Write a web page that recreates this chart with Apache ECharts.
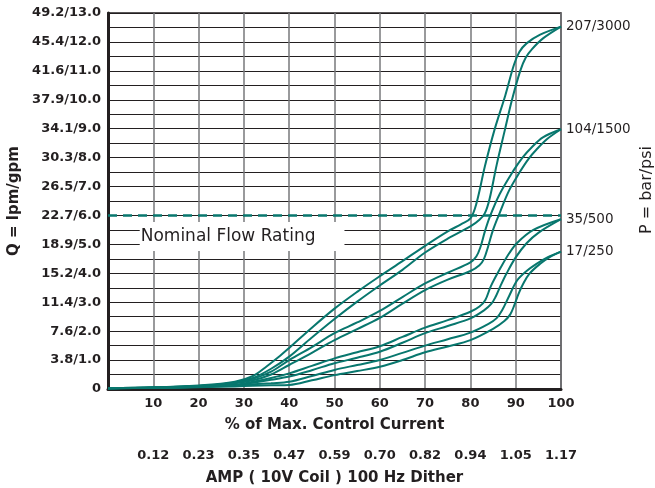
<!DOCTYPE html>
<html>
<head>
<meta charset="utf-8">
<script src="https://cdn.jsdelivr.net/npm/echarts@6/dist/echarts.min.js"></script>
<style>
  html, body { margin: 0; padding: 0; background: #fff; }
  #main { width: 655px; height: 488px; }
</style>
</head>
<body>
<div id="main"></div>
<script>
// tick labels
var yTickLabels = ['0', '3.8/1.0', '7.6/2.0', '11.4/3.0', '15.2/4.0', '18.9/5.0', '22.7/6.0',
  '26.5/7.0', '30.3/8.0', '34.1/9.0', '37.9/10.0', '41.6/11.0', '45.4/12.0', '49.2/13.0'];
var ampLabels = ['', '0.12', '0.23', '0.35', '0.47', '0.59', '0.70', '0.82', '0.94', '1.05', '1.17'];
var pressureLabels = ['207/3000', '104/1500', '35/500', '17/250'];
var nominalFlow = 6.0; // gpm

// curves: [% current, gpm]  (two curves per pressure, up / down)
var p207a = [[0,0.03],[10,0.05],[20,0.12],[28,0.25],[32,0.45],[35,0.78],[38,1.15],[40,1.42],[45,2.12],[50,2.78],
  [55,3.36],[60,3.9],[65,4.42],[70,4.95],[75,5.45],[78,5.7],[80,5.9],[81.3,6.4],[83.2,7.7],[85.3,8.95],
  [87.7,10.15],[89.6,11.2],[90.8,11.65],[92.4,11.95],[95.4,12.25],[100,12.53]];
var p207b = [[0,0.03],[10,0.05],[20,0.1],[28,0.22],[32,0.38],[36,0.7],[40,1.12],[45,1.78],[50,2.42],[55,3.02],
  [60,3.58],[65,4.12],[70,4.72],[75,5.2],[80,5.62],[82,5.85],[83.2,6.08],[84.2,6.55],[85.8,7.75],[87.6,8.95],
  [89.1,9.95],[91,11.0],[92.2,11.45],[93.6,11.75],[96.1,12.13],[100,12.53]];
var p104a = [[0,0.03],[10,0.05],[20,0.1],[28,0.22],[32,0.35],[36,0.6],[40,1.0],[45,1.45],[50,1.93],[55,2.3],
  [60,2.7],[65,3.18],[70,3.65],[75,4.02],[80,4.38],[81.3,4.58],[82.2,4.9],[83.2,5.45],[84.3,5.96],[86.5,6.75],
  [89.5,7.55],[91.5,8.0],[93.5,8.35],[96,8.7],[100,8.98]];
var p104b = [[0,0.03],[10,0.05],[20,0.1],[28,0.2],[32,0.3],[36,0.5],[40,0.83],[45,1.25],[50,1.69],[55,2.07],
  [60,2.46],[65,2.95],[70,3.42],[75,3.78],[80,4.08],[82,4.28],[83,4.5],[83.9,4.92],[85,5.5],[86.5,6.1],
  [88.5,6.85],[90.9,7.5],[92.8,7.95],[94.6,8.28],[97,8.65],[100,8.98]];
var p35a = [[0,0.03],[10,0.04],[20,0.08],[28,0.15],[32,0.25],[36,0.38],[40,0.54],[45,0.8],[50,1.06],[55,1.27],
  [60,1.48],[65,1.8],[70,2.12],[75,2.38],[80,2.67],[82,2.85],[83.3,3.08],[84.5,3.55],[86.7,4.2],[88.6,4.7],
  [90.3,5.05],[93.9,5.5],[100,5.87]];
var p35b = [[0,0.03],[10,0.04],[20,0.08],[28,0.13],[32,0.22],[36,0.32],[40,0.43],[45,0.65],[50,0.89],[55,1.08],
  [60,1.29],[65,1.6],[70,1.93],[75,2.18],[80,2.44],[83,2.72],[84.6,2.94],[85.6,3.2],[86.6,3.55],[88,4.0],
  [90,4.55],[92.4,5.04],[95,5.4],[100,5.87]];
var p17a = [[0,0.03],[10,0.04],[20,0.07],[28,0.11],[32,0.16],[36,0.2],[40,0.25],[45,0.45],[50,0.66],[55,0.83],
  [60,1.0],[65,1.25],[70,1.5],[75,1.72],[80,1.95],[84,2.25],[85.8,2.45],[87,2.72],[88.5,3.2],[90.3,3.75],
  [92.4,4.08],[94.5,4.32],[97,4.55],[100,4.75]];
var p17b = [[0,0.03],[10,0.04],[20,0.06],[28,0.09],[32,0.11],[36,0.13],[40,0.14],[45,0.3],[50,0.48],[55,0.62],
  [60,0.77],[65,1.0],[70,1.27],[75,1.47],[80,1.69],[85,2.08],[87.5,2.35],[88.8,2.58],[89.7,2.9],[90.6,3.28],
  [91.6,3.62],[93,3.98],[95.4,4.33],[97.5,4.56],[100,4.75]];

var teal = '#08776e';
var ink = '#231f20';
var font = '"DejaVu Sans", Verdana, sans-serif';

function curve(data, label) {
  var s = {
    type: 'line',
    data: data,
    smooth: 0.35,
    showSymbol: false,
    symbol: 'none',
    lineStyle: { color: teal, width: 2 },
    z: 3
  };
  if (label) {
    s.endLabel = {
      show: true,
      formatter: label,
      color: ink,
      fontFamily: font,
      fontSize: 13.5,
      distance: 5
    };
  }
  return s;
}

var chart = echarts.init(document.getElementById('main'), null, { renderer: 'canvas' });

var series = [
  curve(p207a, pressureLabels[0]), curve(p207b),
  curve(p104a, pressureLabels[1]), curve(p104b),
  curve(p35a, pressureLabels[2]), curve(p35b),
  curve(p17a, pressureLabels[3]), curve(p17b)
];
// nominal flow rating line and its label box
series[0].markLine = {
  silent: true,
  symbol: 'none',
  label: { show: false },
  lineStyle: { color: teal, width: 2.5, type: [9, 6] },
  data: [{ yAxis: nominalFlow }]
};
series[0].markArea = {
  silent: true,
  itemStyle: { color: '#fff' },
  label: {
    show: true,
    position: 'insideLeft',
    color: ink,
    fontFamily: font,
    fontSize: 17,
    distance: 1
  },
  data: [[{ name: 'Nominal Flow Rating', coord: [7, 5.77] }, { coord: [52.2, 4.77] }]]
};

var tickStyle = { color: ink, fontFamily: font, fontSize: 13, fontWeight: 'bold' };
var nameStyle = { color: ink, fontFamily: font, fontSize: 15, fontWeight: 'bold' };

var option = {
  animation: false,
  backgroundColor: '#fff',
  grid: {
    left: 108, right: 94, top: 13, bottom: 99,
    containLabel: false,
    outerBoundsMode: 'none',
    show: true, borderColor: ink, borderWidth: 1.5
  },
  xAxis: [{
    type: 'value',
    min: 0, max: 100, interval: 10,
    name: '% of Max. Control Current',
    nameLocation: 'middle',
    nameGap: 29,
    nameTextStyle: nameStyle,
    axisLine: { show: true, onZero: false, lineStyle: { color: ink, width: 3 } },
    axisTick: { show: false },
    axisLabel: Object.assign({}, tickStyle, {
      margin: 8,
      formatter: function (v) { return v === 0 ? '' : v; }
    }),
    splitLine: { show: true, lineStyle: { color: '#77787b', width: 1.5 } }
  }, {
    type: 'value',
    position: 'bottom',
    offset: 52,
    min: 0, max: 100, interval: 10,
    name: 'AMP ( 10V Coil ) 100 Hz Dither',
    nameLocation: 'middle',
    nameGap: 30,
    nameTextStyle: nameStyle,
    axisLine: { show: false },
    axisTick: { show: false },
    splitLine: { show: false },
    axisLabel: Object.assign({}, tickStyle, {
      margin: 8,
      formatter: function (v) { return ampLabels[Math.round(v / 10)]; }
    })
  }],
  yAxis: [{
    type: 'value',
    min: 0, max: 13, interval: 1,
    name: 'Q = lpm/gpm',
    nameLocation: 'middle',
    nameGap: 74,
    nameRotate: 90,
    nameTextStyle: nameStyle,
    axisLine: { show: true, onZero: false, lineStyle: { color: ink, width: 3 } },
    axisTick: { show: false },
    axisLabel: Object.assign({}, tickStyle, {
      margin: 7,
      formatter: function (v) { return yTickLabels[Math.round(v)]; }
    }),
    splitLine: { show: true, lineStyle: { color: ink, width: 1.2 } },
    minorTick: { show: false, splitNumber: 2 },
    minorSplitLine: { show: true, lineStyle: { color: ink, width: 1.2 } }
  }, {
    type: 'value',
    position: 'right',
    min: 0, max: 13, interval: 1,
    name: 'P = bar/psi',
    nameLocation: 'middle',
    nameGap: 78,
    nameRotate: 90,
    nameTextStyle: Object.assign({}, nameStyle, { fontSize: 16, fontWeight: 'normal', padding: [0, 0, 0, 22] }),
    axisLine: { show: false },
    axisTick: { show: false },
    axisLabel: { show: false },
    splitLine: { show: false }
  }],
  series: series
};

chart.setOption(option);
</script>
</body>
</html>
